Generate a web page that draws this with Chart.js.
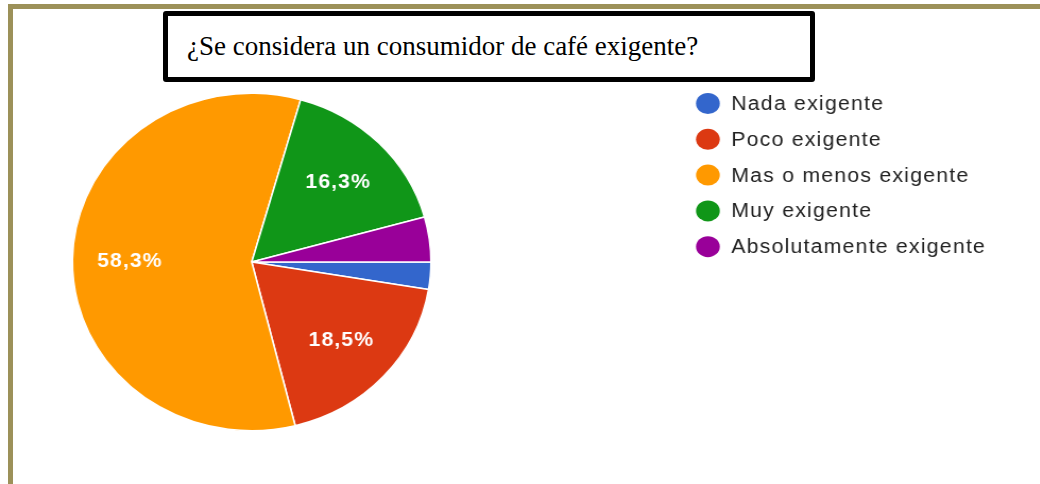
<!DOCTYPE html>
<html>
<head>
<meta charset="utf-8">
<script src="https://cdn.jsdelivr.net/npm/chart.js@4/dist/chart.umd.min.js"></script>
<style>
  html, body { margin: 0; padding: 0; background: #ffffff; }
  body { width: 1040px; height: 484px; position: relative; overflow: hidden; }
  #frameTop { position: absolute; left: 8px; top: 4px; width: 1032px; height: 5px; background: #9c9159; }
  #frameLeft { position: absolute; left: 8px; top: 4px; width: 5px; height: 480px; background: #9c9159; }
  #wrap { position: absolute; left: 0; top: 0; width: 979px; height: 484px;
          transform: scaleX(1.0621); transform-origin: 0 0; }
  #title { position: absolute; left: 163px; top: 11px; width: 623px; height: 61px;
           border: 5px solid #000; border-radius: 3px; background: #fff;
           font-family: "Liberation Serif", "Times New Roman", serif; font-size: 27px;
           color: #000; line-height: 60px; padding-left: 19px; box-sizing: content-box; white-space: nowrap; }
</style>
</head>
<body>
<div id="frameTop"></div>
<div id="frameLeft"></div>
<div id="wrap"><canvas id="c" width="979" height="484"></canvas></div>
<div id="title">¿Se considera un consumidor de café exigente?</div>
<script>
const categories = ["Nada exigente", "Poco exigente", "Mas o menos exigente", "Muy exigente", "Absolutamente exigente"];
const percentages = [2.6, 18.5, 58.3, 16.3, 4.3];
const sliceColors = ["#3366cc", "#dc3912", "#ff9900", "#109618", "#990099"];

const overlayPlugin = {
  id: 'overlay',
  afterDatasetsDraw(chart) {
    const ctx = chart.ctx;
    const meta = chart.getDatasetMeta(0);
    ctx.save();
    ctx.fillStyle = '#ffffff';
    ctx.font = 'bold 20px "Liberation Sans", Arial, sans-serif';
    ctx.textAlign = 'center';
    ctx.textBaseline = 'middle';
    try { ctx.letterSpacing = '1px'; } catch (e) {}
    meta.data.forEach((arc, i) => {
      const v = percentages[i];
      if (v < 10) return;
      const p = arc.getProps(['x', 'y', 'startAngle', 'endAngle', 'outerRadius'], true);
      const mid = (p.startAngle + p.endAngle) / 2;
      const r = p.outerRadius * 0.68;
      ctx.fillText(v.toFixed(1).replace('.', ',') + '%', p.x + Math.cos(mid) * r, p.y + Math.sin(mid) * r + 1);
    });
    ctx.restore();
  },
  afterDraw(chart) {
    const ctx = chart.ctx;
    ctx.save();
    ctx.font = '20px "Liberation Sans", Arial, sans-serif';
    ctx.textAlign = 'left';
    ctx.textBaseline = 'middle';
    try { ctx.letterSpacing = '1.15px'; } catch (e) {}
    const x0 = 666.5, y0 = 103.5, step = 35.8;
    categories.forEach((lab, i) => {
      const y = y0 + i * step;
      ctx.fillStyle = sliceColors[i];
      ctx.beginPath();
      ctx.ellipse(x0, y, 11.2, 10.5, 0, 0, Math.PI * 2);
      ctx.fill();
      ctx.fillStyle = '#222222';
      ctx.fillText(lab, 688.5, y + 1);
    });
    ctx.restore();
  }
};

new Chart(document.getElementById('c'), {
  type: 'pie',
  data: {
    labels: categories,
    datasets: [{
      data: percentages,
      backgroundColor: sliceColors,
      borderColor: '#ffffff',
      borderWidth: 1.5
    }]
  },
  options: {
    responsive: false,
    animation: false,
    devicePixelRatio: 1,
    rotation: 90,
    layout: { padding: { left: 67.5, top: 92, right: 572.5, bottom: 52 } },
    plugins: {
      legend: { display: false },
      tooltip: { enabled: false },
      title: { display: false }
    }
  },
  plugins: [overlayPlugin]
});
</script>
</body>
</html>
